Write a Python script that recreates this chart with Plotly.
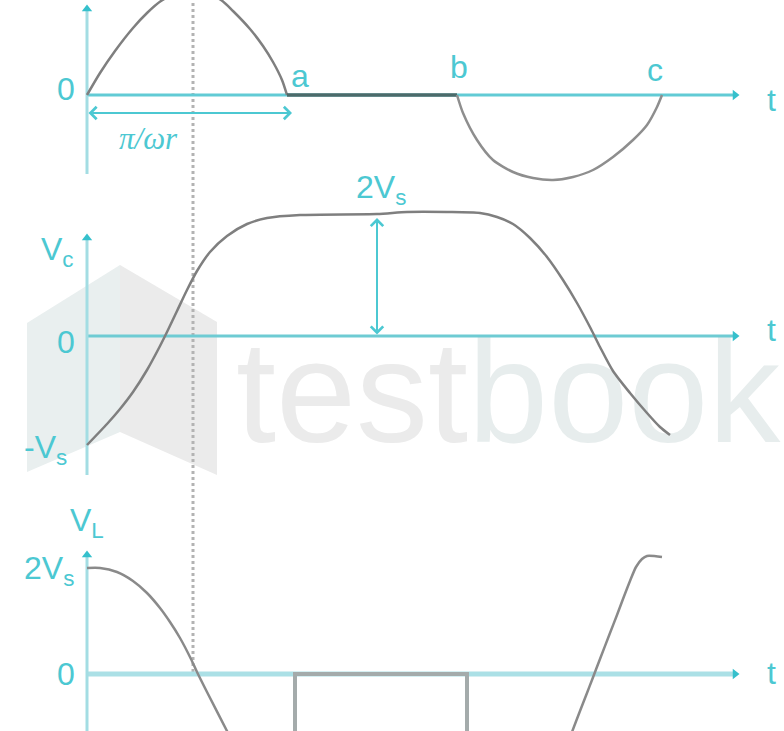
import plotly.graph_objects as go

# Time axis in units of pi/omega (t = 1 at point "a"); voltages in per-panel units.

# --- source voltage (top panel) ---
src_t1 = [0.0, 0.065, 0.14, 0.23, 0.30, 0.37, 0.52, 0.67, 0.73, 0.815, 0.88, 0.93, 0.975, 1.0]
src_v1 = [0.0, 0.22, 0.44, 0.67, 0.82, 0.94, 1.08, 0.95, 0.84, 0.66, 0.49, 0.33, 0.15, 0.0]
hold_t = [1.0, 1.85]
hold_v = [0.0, 0.0]
src_t2 = [1.85, 1.88, 1.95, 2.03, 2.13, 2.23, 2.33, 2.43, 2.53, 2.63, 2.73, 2.80, 2.85, 2.875]
src_v2 = [0.0, -0.18, -0.45, -0.65, -0.77, -0.83, -0.85, -0.82, -0.75, -0.62, -0.45, -0.30, -0.12, 0.0]

# --- capacitor voltage Vc (middle panel) ---
vc_t = [0.0, 0.10, 0.165, 0.23, 0.30, 0.365, 0.40, 0.45, 0.50, 0.55, 0.615, 0.70, 0.80, 0.90,
        1.065, 1.45, 1.60, 1.80, 1.965, 2.05, 2.13, 2.215, 2.30, 2.38, 2.45, 2.52,
        2.565, 2.63, 2.715, 2.80, 2.865, 2.915]
vc_v = [-1.09, -0.88, -0.73, -0.56, -0.34, -0.10, 0.04, 0.25, 0.46, 0.65, 0.84, 1.00, 1.12, 1.18,
        1.21, 1.22, 1.24, 1.24, 1.23, 1.19, 1.12, 0.98, 0.79, 0.56, 0.33, 0.07,
        -0.11, -0.35, -0.57, -0.77, -0.91, -0.99]

# --- inductor voltage VL (bottom panel) ---
vl_t1 = [0.0, 0.065, 0.15, 0.23, 0.30, 0.365, 0.415, 0.465, 0.52, 0.55, 0.60, 0.70, 0.74]
vl_v1 = [1.06, 1.06, 1.02, 0.93, 0.81, 0.66, 0.52, 0.36, 0.15, 0.02, -0.18, -0.57, -0.73]
pulse_t = [1.04, 1.04, 1.90, 1.90]
pulse_v = [-0.80, 0.0, 0.0, -0.80]
vl_t2 = [2.40, 2.425, 2.465, 2.50, 2.525, 2.565, 2.615, 2.65, 2.68, 2.715, 2.745, 2.775, 2.80, 2.875]
vl_v2 = [-0.71, -0.58, -0.37, -0.19, -0.06, 0.15, 0.41, 0.59, 0.75, 0.93, 1.07, 1.15, 1.18, 1.17]

# Axis extents (t-axis end, y-axis bottom/top) per panel
t_end = 3.24
yaxis_ext = [(-0.79, 0.86), (-1.39, 0.98), (-0.60, 1.19)]
y_ranges = [[-0.90, 0.95], [-1.44, 1.51], [-0.57, 1.89]]
y_domains = [[1 - 185 / 731, 1.0], [1 - 480 / 731, 1 - 185 / 731], [0.0, 1 - 485 / 731]]
t_marker = 0.53  # vertical dotted reference instant
x_range = [-0.435, 3.485]

CYAN = "#4cc8d2"
AX_T = ["#62cbd5", "#6ecbd3", "#abe0e6"]
AX_Y = "#a3dde3"
CURVE = "#7f7f7f"
FONT = "Liberation Sans, Arial, sans-serif"

fig = go.Figure()

# watermark wordmark, kept underneath everything else in the middle panel
fig.add_trace(go.Scatter(
    x=[0.745], y=[-0.70], mode="text",
    text=['<span style="color:#ebebeb">test</span><span style="color:#e7eded">book</span>'],
    textposition="middle right",
    textfont=dict(family=FONT, size=144),
    xaxis="x2", yaxis="y2", hoverinfo="skip", showlegend=False,
))

# axes for each panel
for i in range(3):
    xa = "x" if i == 0 else f"x{i + 1}"
    ya = "y" if i == 0 else f"y{i + 1}"
    lo, hi = yaxis_ext[i]
    fig.add_trace(go.Scatter(x=[0, t_end], y=[0, 0], mode="lines",
                             line=dict(color=AX_T[i], width=3 if i < 2 else 5),
                             xaxis=xa, yaxis=ya, hoverinfo="skip", showlegend=False))
    fig.add_trace(go.Scatter(x=[0, 0], y=[lo, hi], mode="lines",
                             line=dict(color=AX_Y, width=3),
                             xaxis=xa, yaxis=ya, hoverinfo="skip", showlegend=False))
    fig.add_trace(go.Scatter(x=[t_end, 0], y=[0, hi], mode="markers",
                             marker=dict(symbol=["triangle-right", "triangle-up"], size=9,
                                         color="#35c0cc"),
                             xaxis=xa, yaxis=ya, hoverinfo="skip", showlegend=False))

# waveforms
def curve(t, v, xa, ya, color=CURVE, width=2.5, shape="spline"):
    fig.add_trace(go.Scatter(x=t, y=v, mode="lines",
                             line=dict(color=color, width=width, shape=shape, smoothing=0.7),
                             xaxis=xa, yaxis=ya, hoverinfo="skip", showlegend=False))

curve(src_t1, src_v1, "x", "y")
curve(hold_t, hold_v, "x", "y", color="#4c6a6a", width=3.5, shape="linear")
curve(src_t2, src_v2, "x", "y", color="#8e8e8e")
curve(vc_t, vc_v, "x2", "y2")
curve(vl_t1, vl_v1, "x3", "y3", color="#8a8a8a")
curve(pulse_t, pulse_v, "x3", "y3", color="#a4abab", width=4, shape="linear")
curve(vl_t2, vl_v2, "x3", "y3", color="#8a8a8a")

# logo mark and dotted reference line (below the traces)
def px(xp, yp):
    return xp / 784, 1 - yp / 731

def poly(pts, color):
    path = "M " + " L ".join(f"{px(a, b)[0]:.4f},{px(a, b)[1]:.4f}" for a, b in pts) + " Z"
    return dict(type="path", path=path, xref="paper", yref="paper",
                fillcolor=color, line=dict(width=0), layer="below")

shapes = [
    poly([(27, 323), (120, 265), (120, 432), (27, 472)], "#e9efef"),
    poly([(120, 265), (217, 322), (217, 475), (120, 432)], "#ebebeb"),
    dict(type="line", xref="x", yref="paper", x0=t_marker, x1=t_marker,
         y0=1 - 672 / 731, y1=1.0, layer="below",
         line=dict(color="#b3b3b3", width=3, dash="3px,3px")),
]

def label(text, x, y, xa, ya, size=32, family=FONT):
    return dict(text=text, x=x, y=y, xref=xa, yref=ya, showarrow=False,
                xanchor="center", yanchor="middle",
                font=dict(family=family, size=size, color=CYAN))

annotations = [
    # top panel
    label("0", -0.105, 0.06, "x", "y"),
    label("a", 1.065, 0.19, "x", "y"),
    label("b", 1.86, 0.28, "x", "y"),
    label("c", 2.84, 0.25, "x", "y"),
    label("t", 3.42, -0.05, "x", "y"),
    label("<i>π/ωr</i>", 0.305, -0.43, "x", "y", size=31,
          family="Liberation Serif, Times New Roman, serif"),
    dict(x=1.025, y=-0.18, ax=0.0, ay=-0.18, xref="x", yref="y", axref="x", ayref="y",
         text="", showarrow=True, arrowside="end+start", arrowhead=4, startarrowhead=4,
         arrowsize=1.2, startarrowsize=1.2, arrowwidth=2, arrowcolor=CYAN,
         standoff=0, startstandoff=0),
    # middle panel
    label("V<sub>c</sub>", -0.15, 0.84, "x2", "y2"),
    label("0", -0.105, -0.06, "x2", "y2"),
    label("-V<sub>s</sub>", -0.21, -1.14, "x2", "y2"),
    label("2V<sub>s</sub>", 1.47, 1.46, "x2", "y2"),
    label("t", 3.42, 0.06, "x2", "y2"),
    dict(x=1.45, y=1.18, ax=1.45, ay=0.0, xref="x2", yref="y2", axref="x2", ayref="y2",
         text="", showarrow=True, arrowside="end+start", arrowhead=4, startarrowhead=4,
         arrowsize=1.2, startarrowsize=1.2, arrowwidth=2, arrowcolor=CYAN,
         standoff=0, startstandoff=0),
    # bottom panel
    label("V<sub>L</sub>", 0.0, 1.52, "x3", "y3"),
    label("2V<sub>s</sub>", -0.19, 1.04, "x3", "y3"),
    label("0", -0.105, 0.0, "x3", "y3"),
    label("t", 3.42, 0.01, "x3", "y3"),
]

layout = dict(
    width=784, height=731, autosize=False,
    margin=dict(l=0, r=0, t=0, b=0),
    paper_bgcolor="white", plot_bgcolor="rgba(0,0,0,0)",
    showlegend=False, shapes=shapes, annotations=annotations,
)
for i in range(3):
    sx = "" if i == 0 else str(i + 1)
    layout[f"xaxis{sx}"] = dict(domain=[0, 1], range=x_range, visible=False,
                                anchor=f"y{sx}", fixedrange=True)
    layout[f"yaxis{sx}"] = dict(domain=y_domains[i], range=y_ranges[i], visible=False,
                                anchor=f"x{sx}", fixedrange=True)
fig.update_layout(**layout)

fig.write_html("out.html")
